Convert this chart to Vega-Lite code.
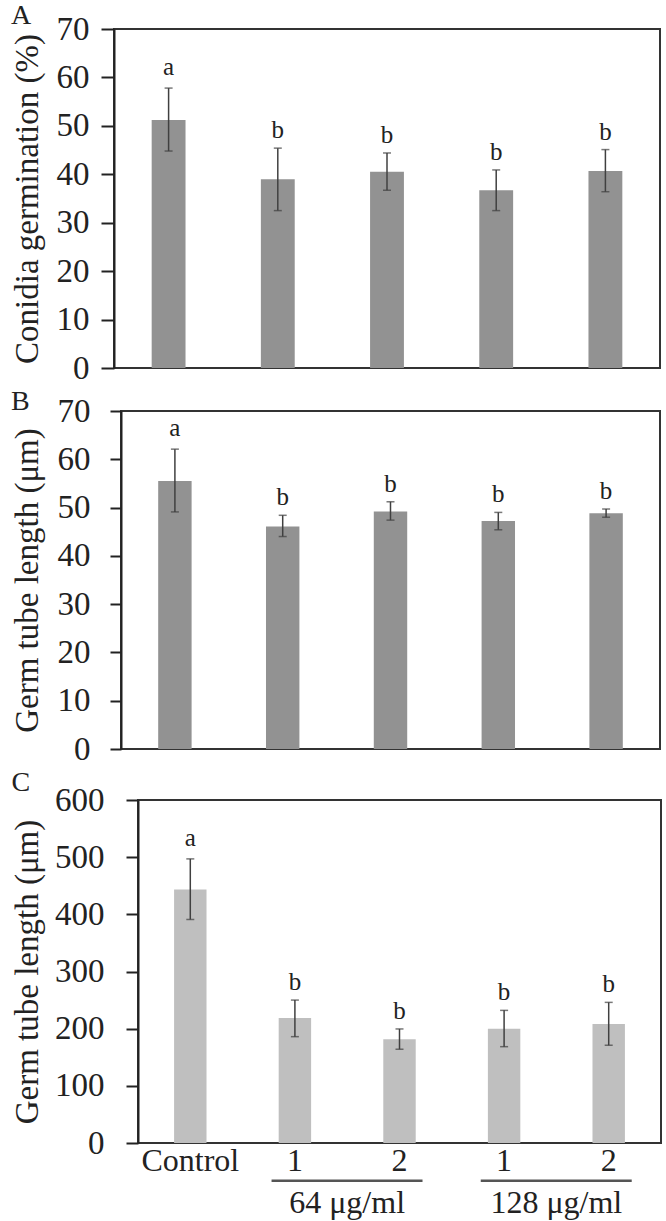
{
  "$schema": "https://vega.github.io/schema/vega-lite/v6.json",
  "background": "white",
  "padding": {"left": 9, "top": 1, "right": 0, "bottom": 0},
  "spacing": 1,
  "config": {
    "font": "Liberation Serif",
    "view": {"stroke": "#333333", "strokeWidth": 2},
    "axis": {
      "labelFont": "Liberation Serif", "titleFont": "Liberation Serif",
      "labelColor": "#222222", "titleColor": "#222222",
      "labelFontSize": 33, "titleFontSize": 33, "titleFontWeight": "normal",
      "grid": false, "domainColor": "#222222", "domainWidth": 2,
      "tickColor": "#222222", "tickWidth": 2
    },
    "title": {"font": "Liberation Serif", "fontSize": 28, "fontWeight": "normal", "color": "#222222", "anchor": "start", "frame": "bounds", "baseline": "alphabetic"}
  },
  "vconcat": [
    {"spacing": 0, "hconcat": [
    {"width": 1, "height": 1, "data": {"values": []}, "mark": {"type": "point", "opacity": 0}, "view": {"stroke": null}},
    {
      "title": {"text": "A", "offset": -17},
      "width": 546, "height": 339,
      "data": {"values": [
        {"cond": "Control", "mean": 51.2, "lo": 44.8, "hi": 57.8, "letter": "a"},
        {"cond": "64-1", "mean": 39.0, "lo": 32.5, "hi": 45.4, "letter": "b"},
        {"cond": "64-2", "mean": 40.5, "lo": 36.7, "hi": 44.4, "letter": "b"},
        {"cond": "128-1", "mean": 36.7, "lo": 32.5, "hi": 40.9, "letter": "b"},
        {"cond": "128-2", "mean": 40.7, "lo": 36.4, "hi": 45.1, "letter": "b"}
      ]},
      "encoding": {"x": {"field": "cond", "type": "nominal", "scale": {"domain": ["Control", "64-1", "64-2", "128-1", "128-2"], "paddingInner": 0.69, "paddingOuter": 0.345}, "axis": null}},
      "layer": [
        {"mark": {"type": "bar", "color": "#929292"},
         "encoding": {"y": {"field": "mean", "type": "quantitative", "scale": {"domain": [0, 70]},
           "axis": {"values": [0, 10, 20, 30, 40, 50, 60, 70], "title": "Conidia germination (%)", "ticks": true, "tickSize": 13, "labelPadding": 12, "titlePadding": 12}}}},
        {"mark": {"type": "rule", "color": "#404040", "strokeWidth": 1.5},
         "encoding": {"y": {"field": "lo", "type": "quantitative"}, "y2": {"field": "hi"}}},
        {"mark": {"type": "tick", "color": "#404040", "thickness": 1.5, "size": 8},
         "encoding": {"y": {"field": "lo", "type": "quantitative"}}},
        {"mark": {"type": "tick", "color": "#404040", "thickness": 1.5, "size": 8},
         "encoding": {"y": {"field": "hi", "type": "quantitative"}}},
        {"transform": [{"filter": "datum.letter == 'a'"}],
         "mark": {"type": "text", "baseline": "alphabetic", "dy": -13, "fontSize": 25, "color": "#222222"},
         "encoding": {"y": {"field": "hi", "type": "quantitative"}, "text": {"field": "letter"}}},
        {"transform": [{"filter": "datum.letter == 'b'"}],
         "mark": {"type": "text", "baseline": "alphabetic", "dy": -10, "fontSize": 25, "color": "#222222"},
         "encoding": {"y": {"field": "hi", "type": "quantitative"}, "text": {"field": "letter"}}}
      ]
    }]},
    {"spacing": 0, "hconcat": [
    {"width": 1, "height": 1, "data": {"values": []}, "mark": {"type": "point", "opacity": 0}, "view": {"stroke": null}},
    {
      "title": {"text": "B", "offset": -21},
      "width": 539, "height": 338,
      "data": {"values": [
        {"cond": "Control", "mean": 55.5, "lo": 49.1, "hi": 62.1, "letter": "a"},
        {"cond": "64-1", "mean": 46.1, "lo": 44.0, "hi": 48.4, "letter": "b"},
        {"cond": "64-2", "mean": 49.2, "lo": 47.4, "hi": 51.2, "letter": "b"},
        {"cond": "128-1", "mean": 47.2, "lo": 45.4, "hi": 49.0, "letter": "b"},
        {"cond": "128-2", "mean": 48.8, "lo": 48.0, "hi": 49.7, "letter": "b"}
      ]},
      "encoding": {"x": {"field": "cond", "type": "nominal", "scale": {"domain": ["Control", "64-1", "64-2", "128-1", "128-2"], "paddingInner": 0.69, "paddingOuter": 0.345}, "axis": null}},
      "layer": [
        {"mark": {"type": "bar", "color": "#929292"},
         "encoding": {"y": {"field": "mean", "type": "quantitative", "scale": {"domain": [0, 70]},
           "axis": {"values": [0, 10, 20, 30, 40, 50, 60, 70], "title": "Germ tube length (μm)", "ticks": true, "tickSize": 11, "labelPadding": 20, "titlePadding": 13}}}},
        {"mark": {"type": "rule", "color": "#404040", "strokeWidth": 1.5},
         "encoding": {"y": {"field": "lo", "type": "quantitative"}, "y2": {"field": "hi"}}},
        {"mark": {"type": "tick", "color": "#404040", "thickness": 1.5, "size": 8},
         "encoding": {"y": {"field": "lo", "type": "quantitative"}}},
        {"mark": {"type": "tick", "color": "#404040", "thickness": 1.5, "size": 8},
         "encoding": {"y": {"field": "hi", "type": "quantitative"}}},
        {"transform": [{"filter": "datum.letter == 'a'"}],
         "mark": {"type": "text", "baseline": "alphabetic", "dy": -13, "fontSize": 25, "color": "#222222"},
         "encoding": {"y": {"field": "hi", "type": "quantitative"}, "text": {"field": "letter"}}},
        {"transform": [{"filter": "datum.letter == 'b'"}],
         "mark": {"type": "text", "baseline": "alphabetic", "dy": -10, "fontSize": 25, "color": "#222222"},
         "encoding": {"y": {"field": "hi", "type": "quantitative"}, "text": {"field": "letter"}}}
      ]
    }]},
    {"spacing": 0, "hconcat": [
    {"width": 1, "height": 1, "data": {"values": []}, "mark": {"type": "point", "opacity": 0}, "view": {"stroke": null}},
    {
      "title": {"text": "C", "offset": -13},
      "width": 523, "height": 343,
      "data": {"values": [
        {"cond": "Control", "mean": 443.6, "lo": 391, "hi": 497, "letter": "a"},
        {"cond": "64-1", "mean": 218.6, "lo": 186, "hi": 250, "letter": "b"},
        {"cond": "64-2", "mean": 181.7, "lo": 164, "hi": 199.5, "letter": "b"},
        {"cond": "128-1", "mean": 200, "lo": 168.5, "hi": 232, "letter": "b"},
        {"cond": "128-2", "mean": 208, "lo": 171, "hi": 246, "letter": "b"}
      ]},
      "encoding": {"x": {"field": "cond", "type": "nominal", "scale": {"domain": ["Control", "64-1", "64-2", "128-1", "128-2"], "paddingInner": 0.69, "paddingOuter": 0.345},
        "axis": {"title": null, "labelAngle": 0, "ticks": false, "domain": false, "labelPadding": 2, "labelFontSize": 32, "labelExpr": "datum.value == 'Control' ? 'Control' : split(datum.value, '-')[1]"}}},
      "layer": [
        {"mark": {"type": "bar", "color": "#bfbfbf"},
         "encoding": {"y": {"field": "mean", "type": "quantitative", "scale": {"domain": [0, 600]},
           "axis": {"values": [0, 100, 200, 300, 400, 500, 600], "title": "Germ tube length (μm)", "ticks": true, "tickSize": 12, "labelPadding": 22, "titlePadding": 10}}}},
        {"mark": {"type": "rule", "color": "#404040", "strokeWidth": 1.5},
         "encoding": {"y": {"field": "lo", "type": "quantitative"}, "y2": {"field": "hi"}}},
        {"mark": {"type": "tick", "color": "#404040", "thickness": 1.5, "size": 8},
         "encoding": {"y": {"field": "lo", "type": "quantitative"}}},
        {"mark": {"type": "tick", "color": "#404040", "thickness": 1.5, "size": 8},
         "encoding": {"y": {"field": "hi", "type": "quantitative"}}},
        {"transform": [{"filter": "datum.letter == 'a'"}],
         "mark": {"type": "text", "baseline": "alphabetic", "dy": -13, "fontSize": 25, "color": "#222222"},
         "encoding": {"y": {"field": "hi", "type": "quantitative"}, "text": {"field": "letter"}}},
        {"transform": [{"filter": "datum.letter == 'b'"}],
         "mark": {"type": "text", "baseline": "alphabetic", "dy": -10, "fontSize": 25, "color": "#222222"},
         "encoding": {"y": {"field": "hi", "type": "quantitative"}, "text": {"field": "letter"}}},
        {"data": {"values": [
           {"group": "64 μg/ml", "from": "64-1", "to": "64-2"},
           {"group": "128 μg/ml", "from": "128-1", "to": "128-2"}
         ]},
         "mark": {"type": "rule", "color": "#555555", "strokeWidth": 2.5, "clip": false},
         "encoding": {"x": {"field": "from", "type": "nominal", "bandPosition": -0.22}, "x2": {"field": "to", "bandPosition": 1.21}, "y": {"datum": -66}}},
        {"data": {"values": [
           {"group": "64 μg/ml", "from": "64-1", "to": "64-2"},
           {"group": "128 μg/ml", "from": "128-1", "to": "128-2"}
         ]},
         "mark": {"type": "text", "baseline": "alphabetic", "fontSize": 32, "color": "#222222", "clip": false},
         "encoding": {"x": {"field": "from", "type": "nominal", "bandPosition": 2.11}, "y": {"datum": -122}, "text": {"field": "group"}}}
      ]
    }]}
  ]
}
